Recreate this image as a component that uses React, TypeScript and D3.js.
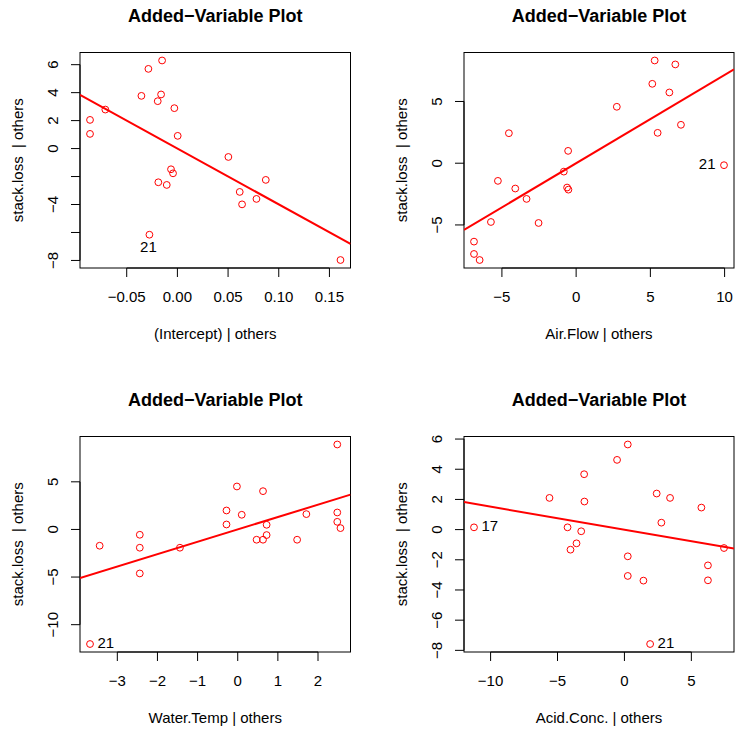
import React from "react";
import * as d3 from "d3";

// ---------- DATA ----------
const interceptX = [-0.0862, -0.0862, -0.0711, -0.0355, -0.0286, -0.0151, -0.0161, -0.0194, -0.0030, 0.0003, -0.0063, -0.0043, -0.0188, -0.0105, -0.0276, 0.0503, 0.0615, 0.0638, 0.0780, 0.0872, 0.1609];
const interceptY = [2.05, 1.05, 2.79, 3.77, 5.70, 6.30, 3.87, 3.39, 2.89, 0.91, -1.48, -1.77, -2.41, -2.60, -6.16, -0.60, -3.10, -3.99, -3.60, -2.24, -7.97];
const interceptLabels = ["", "", "", "", "", "", "", "", "", "", "", "", "", "", "21", "", "", "", "", "", ""];

const airFlowX = [5.29, 6.68, 5.13, 6.28, 2.74, 7.06, 5.49, -4.53, -0.54, 9.96, -0.83, -5.27, -4.10, -0.61, -0.52, -3.34, -5.74, -2.53, -6.88, -6.88, -6.50];
const airFlowY = [8.32, 8.00, 6.43, 5.73, 4.57, 3.11, 2.46, 2.43, 1.00, -0.16, -0.68, -1.43, -2.05, -1.97, -2.14, -2.89, -4.76, -4.84, -6.35, -7.35, -7.84];
const airFlowLabels = ["", "", "", "", "", "", "", "", "", "21", "", "", "", "", "", "", "", "", "", "", ""];

const waterTempX = [2.48, -0.02, 0.63, -0.28, 0.10, 1.71, 2.48, -0.28, 0.72, 2.48, 2.56, -2.44, 0.72, 0.47, 0.63, 1.48, -3.44, -2.44, -1.44, -2.44, -3.68];
const waterTempY = [8.92, 4.51, 4.02, 1.99, 1.54, 1.61, 1.78, 0.52, 0.49, 0.80, 0.14, -0.56, -0.59, -1.08, -1.08, -1.08, -1.71, -1.92, -1.92, -4.62, -12.03];
const waterTempLabels = ["", "", "", "", "", "", "", "", "", "", "", "", "", "", "", "", "", "", "", "", "21"];

const acidConcX = [0.25, -0.55, -3.01, 2.41, -5.60, 3.41, -2.99, 5.75, 2.76, -11.24, -4.25, -3.23, -3.58, -4.03, 7.44, 0.25, 6.24, 0.25, 1.42, 6.24, 1.92];
const acidConcY = [5.64, 4.62, 3.67, 2.39, 2.10, 2.10, 1.86, 1.46, 0.46, 0.15, 0.15, -0.11, -0.91, -1.33, -1.22, -1.77, -2.37, -3.07, -3.38, -3.36, -7.58];
const acidConcLabels = ["", "", "", "", "", "", "", "", "", "17", "", "", "", "", "", "", "", "", "", "", "21"];

const slopes = [-39.9, 0.715, 1.30, -0.152];
const xAxisTitles = ["(Intercept) | others", "Air.Flow | others", "Water.Temp | others", "Acid.Conc. | others"];
const yAxisTitle = "stack.loss  | others";
const plotTitle = "Added\u2212Variable Plot";

const xTicks1 = [-0.05, 0, 0.05, 0.1, 0.15];
const yTicks1 = [-8, -6, -4, -2, 0, 2, 4, 6];
const yTickLabels1 = ["\u22128", "", "\u22124", "", "0", "2", "4", "6"];
const xTicks2 = [-5, 0, 5, 10];
const yTicks2 = [-5, 0, 5];
const xTicks3 = [-3, -2, -1, 0, 1, 2];
const yTicks3 = [-10, -5, 0, 5];
const xTicks4 = [-10, -5, 0, 5];
const yTicks4 = [-8, -6, -4, -2, 0, 2, 4, 6];

// ---------- LAYOUT ----------
const W = 735;
const H = 732;
const FONT = "'Liberation Sans', Arial, Helvetica, sans-serif";
const RED = "#FF0000";

type LabelPos = "below" | "left" | "right";

interface Panel {
  xs: number[];
  ys: number[];
  labels: string[];
  labelPos: LabelPos;
  slope: number;
  xTitle: string;
  xTicks: number[];
  xFmt: (v: number) => string;
  yTicks: number[];
  yTickLabels?: string[];
  box: { left: number; right: number; top: number; bottom: number };
}

const minus = (s: string) => s.replace("-", "\u2212");
const fmtInt = (v: number) => minus(String(v));
const fmt2 = (v: number) => minus(v.toFixed(2));

const panels: Panel[] = [
  {
    xs: interceptX, ys: interceptY, labels: interceptLabels, labelPos: "below",
    slope: slopes[0], xTitle: xAxisTitles[0], xTicks: xTicks1, xFmt: fmt2,
    yTicks: yTicks1, yTickLabels: yTickLabels1,
    box: { left: 80, right: 350.5, top: 52.5, bottom: 268 },
  },
  {
    xs: airFlowX, ys: airFlowY, labels: airFlowLabels, labelPos: "left",
    slope: slopes[1], xTitle: xAxisTitles[1], xTicks: xTicks2, xFmt: fmtInt,
    yTicks: yTicks2,
    box: { left: 464, right: 734, top: 52.5, bottom: 268 },
  },
  {
    xs: waterTempX, ys: waterTempY, labels: waterTempLabels, labelPos: "right",
    slope: slopes[2], xTitle: xAxisTitles[2], xTicks: xTicks3, xFmt: fmtInt,
    yTicks: yTicks3,
    box: { left: 80, right: 350.5, top: 436.5, bottom: 652 },
  },
  {
    xs: acidConcX, ys: acidConcY, labels: acidConcLabels, labelPos: "right",
    slope: slopes[3], xTitle: xAxisTitles[3], xTicks: xTicks4, xFmt: fmtInt,
    yTicks: yTicks4,
    box: { left: 464, right: 734, top: 436.5, bottom: 652 },
  },
];

function extDomain(vals: number[]): [number, number] {
  const [lo, hi] = d3.extent(vals) as [number, number];
  const pad = (hi - lo) * 0.04;
  return [lo - pad, hi + pad];
}

function PanelView({ p }: { p: Panel }) {
  const { box } = p;
  const x = d3.scaleLinear().domain(extDomain(p.xs)).range([box.left, box.right]);
  const y = d3.scaleLinear().domain(extDomain(p.ys)).range([box.bottom, box.top]);
  const [x0, x1] = x.domain();
  const lineGen = d3.line<[number, number]>().x((d) => x(d[0])).y((d) => y(d[1]));
  const linePath = lineGen([[x0, p.slope * x0], [x1, p.slope * x1]]) || "";
  const cx = (box.left + box.right) / 2;
  const cy = (box.top + box.bottom) / 2;
  const clipId = `clip-${box.left}-${box.top}`;
  const tick = 9;
  const xT = p.xTicks;
  const yT = p.yTicks;
  return (
    <g>
      <defs>
        <clipPath id={clipId}>
          <rect x={box.left} y={box.top} width={box.right - box.left} height={box.bottom - box.top} />
        </clipPath>
      </defs>
      {/* title */}
      <text x={cx} y={box.top - 30.5} textAnchor="middle" fontFamily={FONT} fontWeight="bold" fontSize={18} fill="#000">
        {plotTitle}
      </text>
      {/* box */}
      <rect x={box.left} y={box.top} width={box.right - box.left} height={box.bottom - box.top} fill="none" stroke="#000" strokeWidth={1} />
      {/* x axis */}
      <line x1={x(xT[0])} x2={x(xT[xT.length - 1])} y1={box.bottom} y2={box.bottom} stroke="#000" strokeWidth={1} />
      {xT.map((v, i) => (
        <g key={"xt" + i}>
          <line x1={x(v)} x2={x(v)} y1={box.bottom} y2={box.bottom + tick} stroke="#000" strokeWidth={1} />
          <text x={x(v)} y={box.bottom + 34} textAnchor="middle" fontFamily={FONT} fontSize={15} fill="#000">
            {p.xFmt(v)}
          </text>
        </g>
      ))}
      {/* y axis */}
      <line x1={box.left} x2={box.left} y1={y(yT[0])} y2={y(yT[yT.length - 1])} stroke="#000" strokeWidth={1} />
      {yT.map((v, i) => {
        const lbl = p.yTickLabels ? p.yTickLabels[i] : fmtInt(v);
        const tx = box.left - 22;
        return (
          <g key={"yt" + i}>
            <line x1={box.left - tick} x2={box.left} y1={y(v)} y2={y(v)} stroke="#000" strokeWidth={1} />
            {lbl && (
              <text x={tx} y={y(v)} transform={`rotate(-90, ${tx}, ${y(v)})`} textAnchor="middle" fontFamily={FONT} fontSize={15} fill="#000">
                {lbl}
              </text>
            )}
          </g>
        );
      })}
      {/* axis titles */}
      <text x={cx} y={box.bottom + 70.5} textAnchor="middle" fontFamily={FONT} fontSize={15} fill="#000">
        {p.xTitle}
      </text>
      <text
        x={box.left - 57}
        y={cy}
        transform={`rotate(-90, ${box.left - 57}, ${cy})`}
        textAnchor="middle"
        fontFamily={FONT}
        fontSize={15}
        fill="#000"
        style={{ whiteSpace: "pre" }}
      >
        {yAxisTitle}
      </text>
      {/* regression line */}
      <path d={linePath} stroke={RED} strokeWidth={2} fill="none" clipPath={`url(#${clipId})`} />
      {/* points */}
      {p.xs.map((xv, i) => (
        <circle key={"pt" + i} cx={x(xv)} cy={y(p.ys[i])} r={3.4} fill="none" stroke={RED} strokeWidth={1} />
      ))}
      {/* labels */}
      {p.xs.map((xv, i) => {
        const lbl = p.labels[i];
        if (!lbl) return null;
        const px = x(xv);
        const py = y(p.ys[i]);
        if (p.labelPos === "below") {
          return (
            <text key={"lb" + i} x={px - 1} y={py + 17} textAnchor="middle" fontFamily={FONT} fontSize={15} fill="#000">
              {lbl}
            </text>
          );
        }
        if (p.labelPos === "left") {
          return (
            <text key={"lb" + i} x={px - 8.5} y={py + 4} textAnchor="end" fontFamily={FONT} fontSize={15} fill="#000">
              {lbl}
            </text>
          );
        }
        return (
          <text key={"lb" + i} x={px + 7.5} y={py + 4} textAnchor="start" fontFamily={FONT} fontSize={15} fill="#000">
            {lbl}
          </text>
        );
      })}
    </g>
  );
}

export default function App() {
  return (
    <svg
      width={W}
      height={H}
      viewBox={`0 0 ${W} ${H}`}
      style={{ position: "absolute", left: 0, top: 0, background: "#fff" }}
    >
      <rect x={0} y={0} width={W} height={H} fill="#fff" />
      {panels.map((p, i) => (
        <PanelView key={i} p={p} />
      ))}
    </svg>
  );
}
